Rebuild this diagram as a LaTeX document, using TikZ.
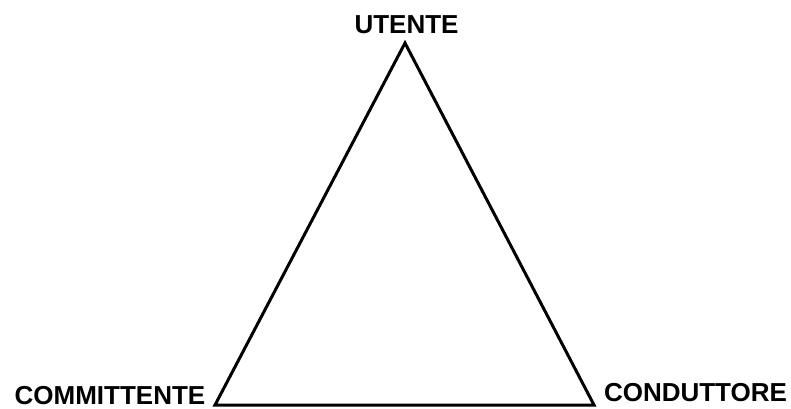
\documentclass[tikz,border=0pt]{standalone}
\usepackage{fontspec}
\setmainfont{Liberation Sans}
\begin{document}
\begin{tikzpicture}[x=1pt,y=-1pt,
  lbl/.style={font=\fontsize{26}{30}\selectfont\bfseries, inner sep=0pt, anchor=base, text depth=0pt},
  edge/.style={line width=3pt, line join=miter}]
\useasboundingbox (0,0) rectangle (791,408);
\coordinate (top) at (405,43);
\coordinate (bl) at (215,405);
\coordinate (br) at (594,405);
\draw[edge] (top) -- (bl) -- (br) -- cycle;
\node[lbl] (utente) at (406.5,33) {UTENTE};
\node[lbl] (committente) at (110,404.5) {COMMITTENTE};
\node[lbl] (conduttore) at (695.5,401) {CONDUTTORE};
\end{tikzpicture}
\end{document}
